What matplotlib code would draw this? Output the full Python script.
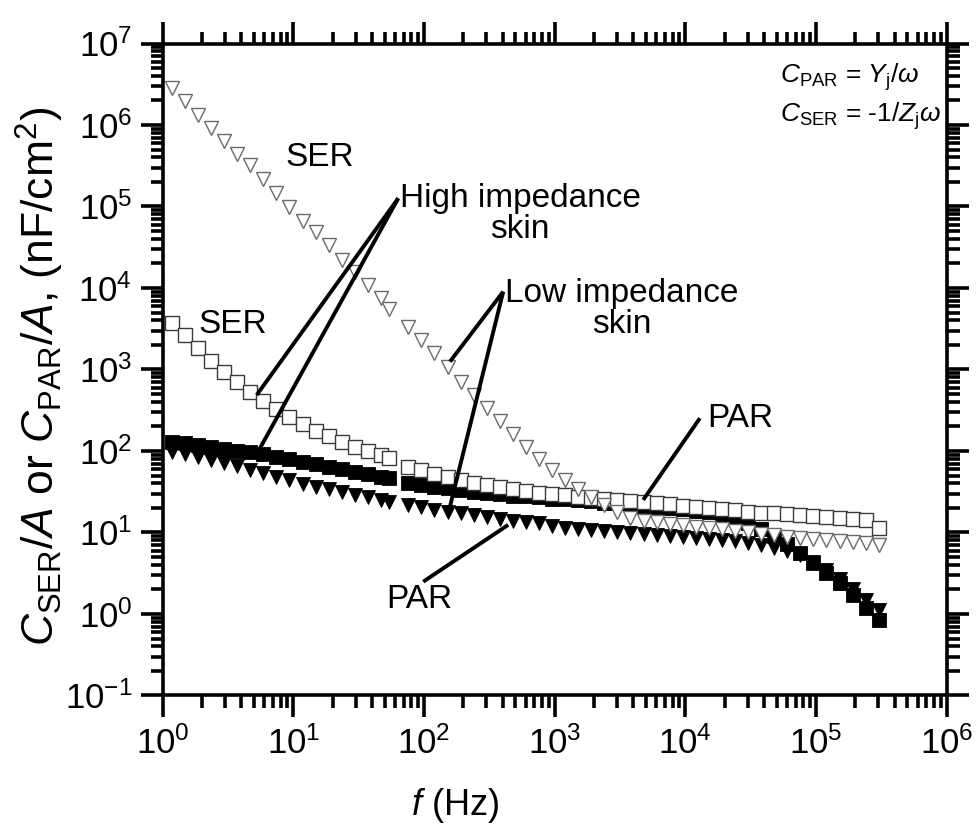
import numpy as np
import matplotlib
matplotlib.use("Agg")
import matplotlib.pyplot as plt
from matplotlib.ticker import LogLocator, NullFormatter, LogFormatterSciNotation

plt.rcParams['font.family'] = ['Liberation Sans', 'DejaVu Sans']
plt.rcParams['mathtext.fontset'] = 'custom'
plt.rcParams['mathtext.rm'] = 'Liberation Sans'
plt.rcParams['mathtext.it'] = 'Liberation Sans:italic'
plt.rcParams['mathtext.bf'] = 'Liberation Sans:bold'
plt.rcParams['axes.unicode_minus'] = False

# ---------------- data ----------------
freq = [1.175, 1.479, 1.862, 2.344, 2.951, 3.715, 4.677, 5.888, 7.413, 9.333,
        11.75, 14.79, 18.62, 23.44, 29.51, 37.15, 46.77, 53.7,
        75.86, 95.5, 120.2, 151.4, 190.5, 239.9, 302.0, 380.2, 478.6, 602.6,
        758.6, 955.0, 1202, 1514, 1905, 2399, 3020, 3802, 4786, 6026,
        7586, 9550, 12020, 15140, 19050, 23990, 30200, 38020, 47860, 60260,
        75860, 95500, 120200, 151400, 190500, 239900, 302000]

# low impedance skin, series capacitance (open triangles)
low_ser = [2.82e6, 1.99e6, 1.33e6, 9.1e5, 6.4e5, 4.4e5, 3.2e5, 2.16e5, 1.45e5, 9.95e4,
           6.7e4, 4.8e4, 3.37e4, 2.2e4, 1.58e4, 1.09e4, 7.5e3, 5.6e3,
           3350, 2300, 1580, 1080, 708, 486, 334, 233, 162, 113,
           79.8, 58.5, 44.1, 34.2, 27.3, 21.8, 17.9, 15.1, 14.0, 13.3,
           12.7, 12.2, 11.7, 11.4, 10.9, 10.4, 10.0, 9.6, 9.2, 8.8,
           8.5, 8.3, 8.1, 7.9, 7.6, 7.4, 7.0]

# high impedance skin, series capacitance (open squares)
high_ser = [3750, 2650, 1820, 1280, 940, 708, 535, 414, 325, 264,
            214, 177, 153, 130, 113, 101, 89, 82,
            64.2, 58.5, 52.2, 47.6, 44.1, 40.8, 38.3, 35.9, 33.9, 32.6,
            30.8, 29.4, 28.6, 27.5, 26.7, 25.8, 25.1, 24.4, 23.7, 23.0,
            22.1, 21.4, 20.6, 20.0, 19.3, 18.9, 18.0, 17.5, 17.2, 16.9,
            16.4, 15.9, 15.6, 15.2, 14.7, 14.2, 11.3]

# high impedance skin, parallel capacitance (filled squares)
high_par = [129, 124, 119, 112, 106, 100, 96, 90.6, 84.4, 78.7,
            73.3, 68.3, 63.6, 59.3, 55.3, 51.5, 48.0, 46.0,
            40.5, 38.3, 36.2, 34.7, 33.2, 31.8, 30.5, 29.7, 28.4, 27.7,
            26.9, 26.1, 25.4, 24.7, 24.0, 23.3, 22.7, 22.1, 21.4, 20.8,
            20.0, 19.2, 18.4, 17.6, 16.6, 15.1, 13.1, 11.0, 9.06, 7.2,
            5.56, 4.19, 3.16, 2.38, 1.71, 1.20, 0.84]

# low impedance skin, parallel capacitance (filled triangles)
low_par = [98, 90.6, 84.4, 77.6, 71.3, 64.6, 58.5, 53.0, 48.0, 43.5,
           39.4, 36.2, 33.7, 31.0, 28.8, 26.9, 25.1, 23.9,
           21.7, 20.4, 18.9, 18.0, 17.2, 16.4, 15.6, 14.5, 14.0, 13.6,
           13.0, 12.0, 11.5, 11.0, 10.7, 10.3, 10.0, 9.8, 9.6, 9.3,
           9.06, 8.8, 8.6, 8.4, 8.2, 7.9, 7.5, 7.0, 6.5, 5.9,
           5.3, 4.3, 3.5, 2.7, 2.0, 1.5, 1.12]

# ---------------- figure ----------------
fig = plt.figure(figsize=(9.79, 8.35), dpi=100)
ax = fig.add_axes([0.1662, 0.1671, 0.8008, 0.7808])
ax.set_xscale('log')
ax.set_yscale('log')

ms = 10
ax.plot(freq, low_par, linestyle='none', marker='v', ms=ms, mfc='black', mec='black', mew=0.6, zorder=3)
ax.plot(freq, high_par, linestyle='none', marker='s', ms=ms, mfc='black', mec='black', mew=0.6, zorder=3)
ax.plot(freq, high_ser, linestyle='none', marker='s', ms=ms, mfc='white', mec='#3a3a3a', mew=1.0, zorder=4)
ax.plot(freq, low_ser, linestyle='none', marker='v', ms=ms, mfc='white', mec='#6a6a6a', mew=1.0, zorder=4)

ax.set_xlim(1, 1e6)
ax.set_ylim(1e-1, 1e7)

for sp in ax.spines.values():
    sp.set_linewidth(2.6)

ax.xaxis.set_major_locator(LogLocator(base=10, numticks=20))
ax.yaxis.set_major_locator(LogLocator(base=10, numticks=20))
ax.xaxis.set_minor_locator(LogLocator(base=10, subs=np.arange(2, 10), numticks=100))
ax.yaxis.set_minor_locator(LogLocator(base=10, subs=np.arange(2, 10), numticks=100))
ax.xaxis.set_minor_formatter(NullFormatter())
ax.yaxis.set_minor_formatter(NullFormatter())
ax.xaxis.set_major_formatter(LogFormatterSciNotation())
ax.yaxis.set_major_formatter(LogFormatterSciNotation())

ax.tick_params(which='both', direction='out', top=True, right=True, width=2.6, color='black')
ax.tick_params(which='major', length=16, labelsize=25, pad=6)
ax.tick_params(which='minor', length=9)

ax.set_xlabel(r'$f$ (Hz)', fontsize=26)
ax.xaxis.set_label_coords(0.373, -0.168)
ax.xaxis.label.set_va('center')
ax.set_ylabel(r'$C_{\mathrm{SER}}/A$ or $C_{\mathrm{PAR}}/A$, (nF/cm$^2$)', fontsize=32)
ax.yaxis.set_label_coords(-0.1565, 0.49)
ax.yaxis.label.set_va('center')

# ---------------- annotations ----------------
lkw = dict(color='black', lw=2.8, solid_capstyle='butt', zorder=5)
# high impedance skin
ax.plot([63.5, 5.24], [1.262e5, 486], **lkw)
ax.plot([63.5, 5.55], [1.262e5, 108], **lkw)
# low impedance skin
ax.plot([403.6, 157.8], [9016, 1247], **lkw)
ax.plot([403.6, 157.8], [9016, 20.7], **lkw)
# PAR right
ax.plot([12910, 4755], [252, 25.1], **lkw)
# PAR bottom
ax.plot([98.6, 440.7], [2.49, 12.4], **lkw)

tkw = dict(fontsize=24, ha='center', va='center', zorder=6)
ax.text(15.8, 3.99e5, 'SER', **tkw)
ax.text(3.42, 3614, 'SER', **tkw)
ax.text(542, 8.2e4, 'High impedance\nskin', linespacing=1.0, **tkw)
ax.text(3237, 5521, 'Low impedance\nskin', linespacing=1.0, **tkw)
ax.text(26120, 247, 'PAR', **tkw)
ax.text(91.4, 1.49, 'PAR', **tkw)

ax.text(5.3e4, 3.83e6, r'$C_{\mathrm{PAR}}$ = $Y_{\mathrm{j}}/\omega$', fontsize=19, ha='left', va='center', zorder=6)
ax.text(5.3e4, 1.29e6, r'$C_{\mathrm{SER}}$ = -1/$Z_{\mathrm{j}}\omega$', fontsize=19, ha='left', va='center', zorder=6)

fig.savefig('out.png', dpi=100)
